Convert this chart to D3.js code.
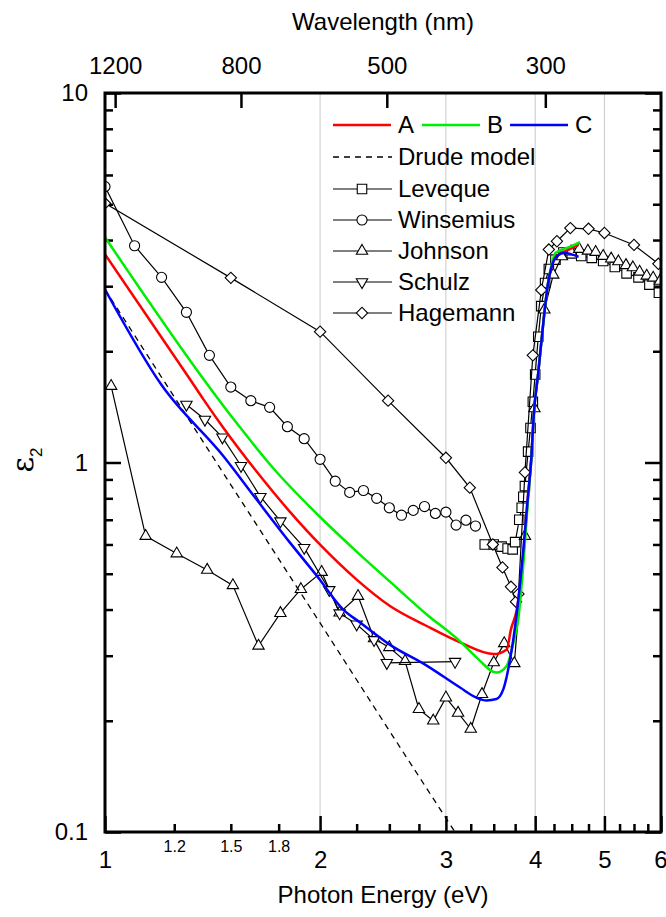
<!DOCTYPE html>
<html>
<head>
<meta charset="utf-8">
<script src="https://cdnjs.cloudflare.com/ajax/libs/d3/7.8.5/d3.min.js"></script>
<style>
  body { margin: 0; background: #fff; }
  text { font-family: "Liberation Sans", Arial, sans-serif; fill: #000; }
</style>
</head>
<body>
<div id="chart"></div>
<script>
// Axis ticks
var energyTicks = [1, 2, 3, 4, 5, 6];
var energyMinor = [1.25, 1.5, 1.75, 2.25, 2.5, 2.75, 3.25, 3.5, 3.75, 4.25, 4.5, 4.75, 5.25, 5.5, 5.75];
var smallLabelValues = [1.25, 1.5, 1.75];
var smallLabelText = ["1.2", "1.5", "1.8"];
var gridEnergies = [2, 3, 4, 5];
var wavelengthTicks = [1200, 800, 500, 300];
var epsTicks = [0.1, 1, 10];
var epsMinor = [0.2, 0.3, 0.4, 0.5, 0.6, 0.7, 0.8, 0.9, 2, 3, 4, 5, 6, 7, 8, 9];

// Models
var eA = [1, 1.315, 1.374, 1.465, 1.63, 1.815, 2.0, 2.25, 2.505, 2.82, 3.14, 3.5, 3.65, 3.7, 3.77, 3.81, 3.85, 3.91, 3.95, 3.98, 4.04, 4.11, 4.17, 4.22, 4.29, 4.45, 4.6];
var epsA = [3.66, 1.68, 1.48, 1.24, 0.945, 0.735, 0.599, 0.482, 0.409, 0.361, 0.326, 0.303, 0.312, 0.354, 0.4, 0.463, 0.56, 0.82, 1.02, 1.33, 1.75, 2.43, 3.06, 3.4, 3.63, 3.76, 3.88];
var eB = [1, 1.374, 1.448, 1.545, 1.72, 2.0, 2.25, 2.505, 2.82, 3.14, 3.31, 3.53, 3.65, 3.73, 3.79, 3.85, 3.91, 3.95, 3.98, 4.04, 4.11, 4.17, 4.22, 4.27, 4.45, 4.62];
var epsB = [4.07, 1.68, 1.465, 1.245, 0.965, 0.712, 0.574, 0.476, 0.388, 0.328, 0.297, 0.27, 0.282, 0.326, 0.38, 0.53, 0.8, 1.02, 1.33, 1.75, 2.43, 3.06, 3.45, 3.69, 3.82, 3.95];
var eC = [1, 1.2, 1.465, 1.63, 1.815, 1.98, 2.155, 2.275, 2.5, 2.82, 3.14, 3.31, 3.42, 3.53, 3.61, 3.69, 3.77, 3.85, 3.91, 3.95, 3.98, 4.04, 4.11, 4.17, 4.22, 4.29, 4.39, 4.48, 4.6];
var epsC = [2.94, 1.62, 1.04, 0.794, 0.607, 0.493, 0.4, 0.369, 0.322, 0.282, 0.246, 0.231, 0.227, 0.229, 0.2435, 0.294, 0.392, 0.58, 0.82, 1.02, 1.33, 1.75, 2.43, 3.06, 3.4, 3.62, 3.69, 3.67, 3.6];
var eDrude = [1, 1.5, 2, 2.5, 3, 3.1];
var epsDrude = [2.94, 0.87, 0.368, 0.188, 0.109, 0.099];

// Measurements
var eLeveque = [3.4, 3.5, 3.59, 3.66, 3.72, 3.75, 3.8, 3.83, 3.85, 3.87, 3.91, 3.94, 3.97, 4.0, 4.04, 4.08, 4.13, 4.18, 4.27, 4.38, 4.5, 4.64, 4.8, 4.98, 5.17, 5.37, 5.58, 5.78, 5.96];
var epsLeveque = [0.6, 0.6, 0.592, 0.585, 0.582, 0.609, 0.7, 0.754, 0.808, 0.863, 1.07, 1.24, 1.46, 1.73, 2.19, 2.65, 3.06, 3.34, 3.54, 3.7, 3.68, 3.62, 3.58, 3.51, 3.38, 3.25, 3.17, 3.03, 2.88];
var eWinsemius = [1.0, 1.1, 1.2, 1.3, 1.4, 1.5, 1.6, 1.7, 1.8, 1.9, 2.0, 2.1, 2.2, 2.3, 2.4, 2.5, 2.6, 2.7, 2.8, 2.9, 3.0, 3.1, 3.2, 3.3];
var epsWinsemius = [5.58, 3.86, 3.17, 2.55, 1.95, 1.6, 1.47, 1.41, 1.25, 1.16, 1.02, 0.89, 0.83, 0.84, 0.8, 0.754, 0.72, 0.742, 0.76, 0.728, 0.734, 0.677, 0.698, 0.673];
var eJohnson = [1.02, 1.14, 1.26, 1.39, 1.51, 1.64, 1.76, 1.88, 2.01, 2.13, 2.26, 2.38, 2.5, 2.63, 2.75, 2.88, 3.0, 3.12, 3.25, 3.37, 3.5, 3.62, 3.74, 3.87, 3.99, 4.12, 4.24, 4.36, 4.49, 4.61, 4.74, 4.86, 4.98, 5.11, 5.23, 5.36, 5.48, 5.6, 5.73, 5.85, 5.98];
var epsJohnson = [1.61, 0.632, 0.567, 0.512, 0.465, 0.319, 0.391, 0.454, 0.505, 0.392, 0.435, 0.334, 0.316, 0.29, 0.215, 0.2, 0.231, 0.21, 0.19, 0.236, 0.2875, 0.324, 0.286, 0.632, 1.4, 2.59, 3.22, 3.61, 3.72, 3.78, 3.74, 3.71, 3.62, 3.56, 3.5, 3.42, 3.37, 3.28, 3.2, 3.16, 3.1];
var eSchulz = [1.3, 1.38, 1.46, 1.55, 1.65, 1.76, 1.9, 2.06, 2.13, 2.25, 2.38, 2.48, 3.09];
var epsSchulz = [1.435, 1.307, 1.17, 0.98, 0.808, 0.694, 0.588, 0.452, 0.391, 0.365, 0.331, 0.287, 0.289];
var eHagemann = [1.0, 1.5, 2.0, 2.49, 3.0, 3.24, 3.49, 3.6, 3.7, 3.76, 3.79, 3.87, 3.97, 4.08, 4.18, 4.29, 4.48, 4.75, 5.0, 5.5, 5.95];
var epsHagemann = [5.03, 3.16, 2.26, 1.47, 1.03, 0.855, 0.6, 0.52, 0.461, 0.42, 0.441, 0.94, 1.95, 2.93, 3.77, 3.97, 4.31, 4.29, 4.18, 3.88, 3.45];

var svgWidth = 666;
var svgHeight = 917;
var margin = { top: 93, right: 5, bottom: 85, left: 105 };
var width = svgWidth - margin.left - margin.right;
var height = svgHeight - margin.top - margin.bottom;
var font = "'Liberation Sans', Arial, sans-serif";

var svg = d3.select("#chart")
  .append("svg")
  .attr("width", svgWidth)
  .attr("height", svgHeight);

var chartGroup = svg.append("g")
  .attr("transform", `translate(${margin.left}, ${margin.top})`);

// Scales
var xScale = d3.scaleLog().domain([1, 6]).range([0, width]);
var yScale = d3.scaleLog().domain([0.1, 10]).range([height, 0]);

// Grid lines
chartGroup.selectAll(".grid")
  .data(gridEnergies)
  .enter()
  .append("line")
  .attr("x1", d => xScale(d))
  .attr("x2", d => xScale(d))
  .attr("y1", 0)
  .attr("y2", height)
  .attr("stroke", "#c8c8c8")
  .attr("stroke-width", 1);

function styleAxis(g, size) {
  g.select(".domain").remove();
  g.selectAll(".tick line").attr("stroke", "#000").attr("stroke-width", 2.5);
  g.selectAll("text").attr("font-family", font).attr("font-size", size).attr("fill", "#000");
}

// Bottom axis
chartGroup.append("g")
  .attr("transform", `translate(0, ${height})`)
  .call(d3.axisBottom(xScale).tickValues(energyTicks).tickSize(-16).tickPadding(19).tickFormat(d => d))
  .call(g => styleAxis(g, 24))
  .call(g => g.selectAll("text").filter(d => d === 6).attr("text-anchor", "end").attr("dx", 6));

chartGroup.append("g")
  .attr("transform", `translate(0, ${height})`)
  .call(d3.axisBottom(xScale).tickValues(energyMinor).tickSize(-8).tickPadding(9)
    .tickFormat(d => {
      var i = smallLabelValues.indexOf(d);
      return i >= 0 ? smallLabelText[i] : "";
    }))
  .call(g => styleAxis(g, 16));

// Top axis: wavelength
chartGroup.append("g")
  .call(d3.axisTop(xScale).tickValues(wavelengthTicks.map(w => 1239.84 / w)).tickSize(-15).tickPadding(19)
    .tickFormat((d, i) => wavelengthTicks[i]))
  .call(g => styleAxis(g, 24));

// Left and right axes
chartGroup.append("g")
  .call(d3.axisLeft(yScale).tickValues(epsTicks).tickSize(-16).tickPadding(17).tickFormat(d => d))
  .call(g => styleAxis(g, 24));
chartGroup.append("g")
  .call(d3.axisLeft(yScale).tickValues(epsMinor).tickSize(-8).tickFormat(""))
  .call(g => styleAxis(g, 24));
chartGroup.append("g")
  .attr("transform", `translate(${width}, 0)`)
  .call(d3.axisRight(yScale).tickValues(epsTicks).tickSize(-16).tickFormat(""))
  .call(g => styleAxis(g, 24));
chartGroup.append("g")
  .attr("transform", `translate(${width}, 0)`)
  .call(d3.axisRight(yScale).tickValues(epsMinor).tickSize(-8).tickFormat(""))
  .call(g => styleAxis(g, 24));

// Data area with clip
chartGroup.append("clipPath")
  .attr("id", "plotClip")
  .append("rect")
  .attr("width", width)
  .attr("height", height);

var plot = chartGroup.append("g").attr("clip-path", "url(#plotClip)");

function zip(xs, ys) { return xs.map((v, i) => [v, ys[i]]); }

var line = d3.line().x(d => xScale(d[0])).y(d => yScale(d[1]));
var smooth = d3.line().x(d => xScale(d[0])).y(d => yScale(d[1])).curve(d3.curveMonotoneX);

var markers = {
  square: { path: d3.symbol(d3.symbolSquare, 90)(), rot: 0 },
  circle: { path: d3.symbol(d3.symbolCircle, 80)(), rot: 0 },
  up: { path: d3.symbol(d3.symbolTriangle, 56)(), rot: 0 },
  down: { path: d3.symbol(d3.symbolTriangle, 56)(), rot: 180 },
  diamond: { path: d3.symbol(d3.symbolSquare, 64)(), rot: 45 }
};

var measured = [
  { name: "Leveque", e: eLeveque, v: epsLeveque, m: "square" },
  { name: "Winsemius", e: eWinsemius, v: epsWinsemius, m: "circle" },
  { name: "Johnson", e: eJohnson, v: epsJohnson, m: "up" },
  { name: "Schulz", e: eSchulz, v: epsSchulz, m: "down" },
  { name: "Hagemann", e: eHagemann, v: epsHagemann, m: "diamond" }
];

measured.forEach(function(s) {
  var pts = zip(s.e, s.v);
  plot.append("path")
    .attr("d", line(pts))
    .attr("fill", "none")
    .attr("stroke", "#000")
    .attr("stroke-width", 1.2);
  plot.selectAll(".m-" + s.name)
    .data(pts)
    .enter()
    .append("path")
    .attr("d", markers[s.m].path)
    .attr("transform", d => `translate(${xScale(d[0])}, ${yScale(d[1])}) rotate(${markers[s.m].rot})`)
    .attr("fill", "#fff")
    .attr("stroke", "#000")
    .attr("stroke-width", 1.1);
});

// Drude and model curves
plot.append("path")
  .attr("d", line(zip(eDrude, epsDrude)))
  .attr("fill", "none")
  .attr("stroke", "#000")
  .attr("stroke-width", 1.3)
  .attr("stroke-dasharray", "6,5");

var models = [
  { name: "A", e: eA, v: epsA, color: "#ff0000" },
  { name: "B", e: eB, v: epsB, color: "#00ee00" },
  { name: "C", e: eC, v: epsC, color: "#0000ff" }
];
models.forEach(function(s) {
  plot.append("path")
    .attr("d", smooth(zip(s.e, s.v)))
    .attr("fill", "none")
    .attr("stroke", s.color)
    .attr("stroke-width", 2.5);
});

// Frame
chartGroup.append("rect")
  .attr("width", width)
  .attr("height", height)
  .attr("fill", "none")
  .attr("stroke", "#000")
  .attr("stroke-width", 3);

// Legend
var legend = svg.append("g");
var modelX = [333, 422, 510];
models.forEach(function(s, i) {
  legend.append("line")
    .attr("x1", modelX[i]).attr("x2", modelX[i] + 58)
    .attr("y1", 125).attr("y2", 125)
    .attr("stroke", s.color).attr("stroke-width", 2.5);
  legend.append("text")
    .attr("x", modelX[i] + 65).attr("y", 133)
    .attr("font-size", 24)
    .text(s.name);
});
legend.append("line")
  .attr("x1", 333).attr("x2", 392)
  .attr("y1", 157).attr("y2", 157)
  .attr("stroke", "#000").attr("stroke-width", 1.3)
  .attr("stroke-dasharray", "6,5");
legend.append("text")
  .attr("x", 398).attr("y", 165)
  .attr("font-size", 24)
  .text("Drude model");

measured.forEach(function(s, i) {
  var yy = 189 + i * 31;
  legend.append("line")
    .attr("x1", 333).attr("x2", 392)
    .attr("y1", yy).attr("y2", yy)
    .attr("stroke", "#000").attr("stroke-width", 1.2);
  legend.append("path")
    .attr("d", markers[s.m].path)
    .attr("transform", `translate(362, ${yy}) rotate(${markers[s.m].rot})`)
    .attr("fill", "#fff")
    .attr("stroke", "#000")
    .attr("stroke-width", 1.1);
  legend.append("text")
    .attr("x", 398).attr("y", yy + 8)
    .attr("font-size", 24)
    .text(s.name);
});

// Axis titles
svg.append("text")
  .attr("x", 383)
  .attr("y", 30)
  .attr("text-anchor", "middle")
  .attr("font-size", 24)
  .text("Wavelength (nm)");

svg.append("text")
  .attr("x", 383)
  .attr("y", 903)
  .attr("text-anchor", "middle")
  .attr("font-size", 24)
  .text("Photon Energy (eV)");

var yTitle = svg.append("text")
  .attr("transform", "translate(33, 460) rotate(-90)")
  .attr("text-anchor", "middle");
yTitle.append("tspan")
  .attr("font-family", "'DejaVu Serif', 'Liberation Serif', serif")
  .attr("font-size", 30)
  .text("ε");
yTitle.append("tspan")
  .attr("font-size", 17)
  .attr("dy", 9)
  .text("2");
</script>
</body>
</html>
